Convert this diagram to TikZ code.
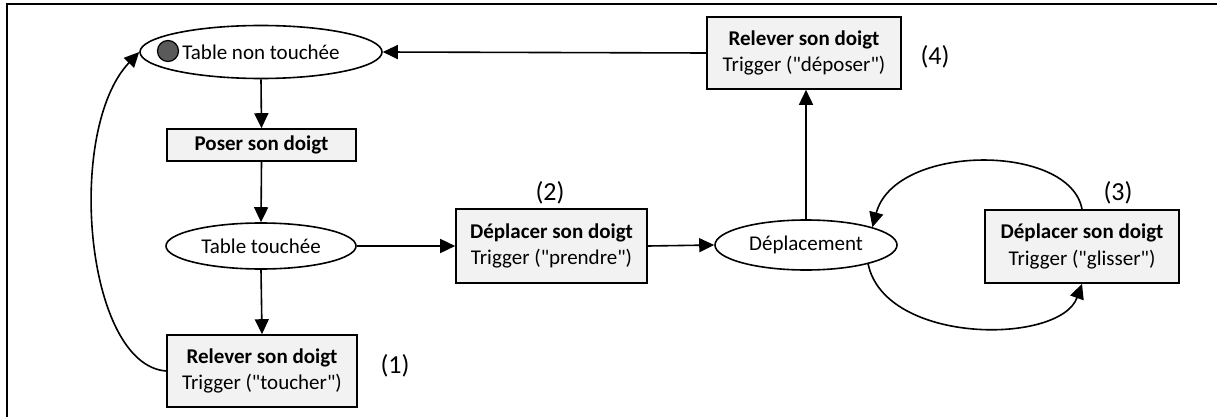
\documentclass[tikz,border=0pt]{standalone}
\usepackage{fontspec}
\setmainfont{Carlito}[Ligatures=TeXOff]
\usetikzlibrary{arrows.meta,shapes.geometric}
\definecolor{boxgrey}{HTML}{F2F2F2}
\definecolor{dotgrey}{HTML}{5A5A5A}
\begin{document}
\begin{tikzpicture}[x=1pt,y=-1pt,
  every node/.style={font=\fontsize{21}{26.5}\selectfont},
  state/.style={draw, line width=1.6pt, ellipse, inner sep=0pt},
  act/.style={draw, line width=1.6pt, fill=boxgrey, inner sep=0pt, align=center},
  num/.style={font=\fontsize{26}{30}\selectfont},
  conn/.style={line width=1.6pt, -{Triangle[length=15pt,width=14pt]}},
  frame/.style={line width=2.5pt}]
\useasboundingbox (0,0) rectangle (1217,417);
\draw[frame] (7,418) -- (7,4) -- (1218,4);

\node[state, minimum width=242pt, minimum height=53pt] (tnt) at (261,52) {Table non touchée};
\node[draw, line width=1.2pt, fill=dotgrey, circle, minimum size=21pt, inner sep=0pt] (dot) at (168,51) {};
\node[act, minimum width=189pt, minimum height=32pt] (poser) at (261.5,145) {\textbf{Poser son doigt}};
\node[state, minimum width=190pt, minimum height=46pt] (tt) at (261,246) {Table touchée};
\node[act, minimum width=190pt, minimum height=72pt] (rel1) at (262,371) {\textbf{Relever son doigt}\\Trigger ("toucher")};
\node[num] (n1) at (395,366) {(1)};
\node[act, minimum width=191pt, minimum height=74pt] (dep1) at (551.5,246) {\textbf{Déplacer son doigt}\\Trigger ("prendre")};
\node[num] (n2) at (550,193) {(2)};
\node[state, minimum width=182pt, minimum height=50pt] (dep) at (806,245) {Déplacement};
\node[act, minimum width=194pt, minimum height=72pt] (rel4) at (804,53) {\textbf{Relever son doigt}\\Trigger ("déposer")};
\node[num] (n4) at (935,57) {(4)};
\node[act, minimum width=194pt, minimum height=73pt] (gl) at (1082,246.5) {\textbf{Déplacer son doigt}\\Trigger ("glisser")};
\node[num] (n3) at (1118,193) {(3)};

\draw[conn] (tnt.south) -- (poser.north);
\draw[conn] (poser.south) -- (tt.north);
\draw[conn] (tt.south) -- (rel1.north);
\draw[conn] (rel1.west) .. controls (85,365) and (65,130) .. (tnt.west);
\draw[conn] (tt.east) -- (dep1.west);
\draw[conn] (dep1.east) -- (dep.west);
\draw[conn] (dep.north) -- (dep.north |- rel4.south);
\draw[conn] (rel4.west) -- (tnt.east);
\draw[conn] (gl.north) .. controls (1070,143) and (895,143) .. (dep.15);
\draw[conn] (dep.-17) .. controls (885,345) and (1060,345) .. (gl.south);
\end{tikzpicture}
\end{document}
